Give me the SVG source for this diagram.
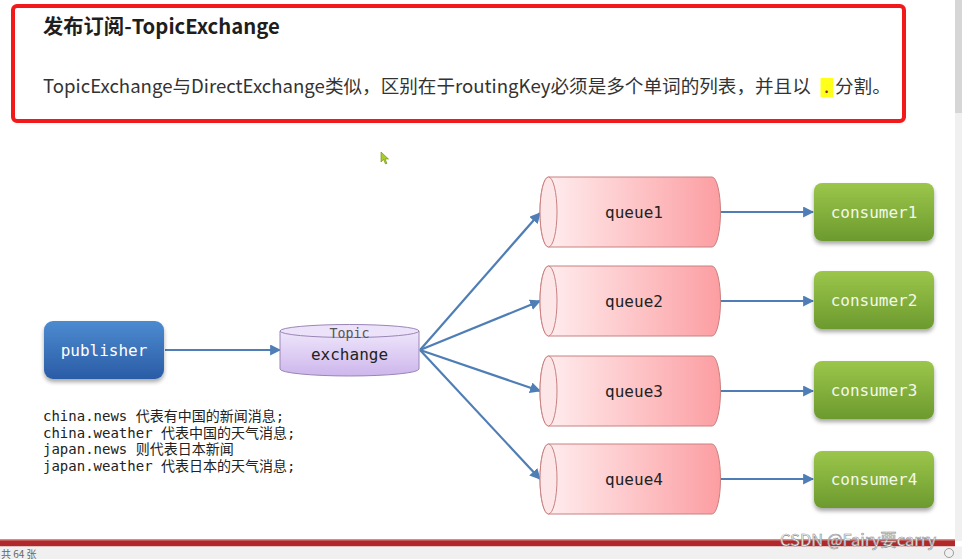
<svg xmlns="http://www.w3.org/2000/svg" width="962" height="559" viewBox="0 0 962 559">
<defs>
<style>
.cjk{font-family:"Noto Sans CJK SC","Noto Sans",sans-serif;}
.mono{font-family:"DejaVu Sans Mono","Liberation Mono","Noto Sans CJK SC",monospace;}
.lbl{font-family:"DejaVu Sans Mono","Liberation Mono",monospace;font-size:16px;text-anchor:middle;}
.conn{stroke:#4f7db5;stroke-width:2.2;fill:none;marker-end:url(#ah);}
.q{stroke:#c98080;stroke-width:1;}
</style>
<marker id="ah" viewBox="0 0 10 10" refX="9" refY="5" markerWidth="5" markerHeight="5" orient="auto" markerUnits="strokeWidth">
<path d="M0,0 L10,5 L0,10 z" fill="#4f7db5"/>
</marker>
<linearGradient id="gBlue" x1="0" y1="0" x2="0" y2="1">
<stop offset="0" stop-color="#4d8bd0"/>
<stop offset="1" stop-color="#2a5ca6"/>
</linearGradient>
<linearGradient id="gGreen" x1="0" y1="0" x2="0" y2="1">
<stop offset="0" stop-color="#9cc64b"/>
<stop offset="1" stop-color="#6c9a2e"/>
</linearGradient>
<linearGradient id="gPurple" x1="0" y1="0" x2="0" y2="1">
<stop offset="0" stop-color="#efe6fb"/>
<stop offset="1" stop-color="#cdb6ec"/>
</linearGradient>
<linearGradient id="gQueue" x1="0" y1="0" x2="1" y2="0">
<stop offset="0" stop-color="#fff0f1"/>
<stop offset="1" stop-color="#fc9ea2"/>
</linearGradient>
<filter id="sh" x="-10%" y="-10%" width="130%" height="140%">
<feGaussianBlur in="SourceAlpha" stdDeviation="2"/>
<feOffset dx="0" dy="3" result="b"/>
<feComponentTransfer><feFuncA type="linear" slope="0.35"/></feComponentTransfer>
<feMerge><feMergeNode/><feMergeNode in="SourceGraphic"/></feMerge>
</filter>
</defs>
<rect x="0" y="0" width="962" height="559" fill="#ffffff"/>
<!-- scrollbar -->
<rect x="955" y="0" width="7" height="541" fill="#f0f0f0"/>
<rect x="955" y="0" width="7" height="113" fill="#d6d6d6"/>

<!-- header box -->
<g id="header">
<rect x="13" y="6" width="891" height="115" rx="4" fill="#ffffff" stroke="#f2191b" stroke-width="4"/>
<text x="43" y="34" class="cjk" font-size="20.3" font-weight="bold" fill="#1e1e1e">发布订阅-TopicExchange</text>
<rect x="820.5" y="78" width="12.5" height="19" fill="#ffff1a"/>
<text x="43" y="93" class="cjk" font-size="18.6" fill="#333333">TopicExchange与DirectExchange类似，区别在于routingKey必须是多个单词的列表，并且以<tspan x="824" fill="#8b1a1a">.</tspan><tspan x="835">分割。</tspan></text>
</g>

<!-- cursor -->
<path d="M381,152 L381,162 L383.5,159.5 L385.5,164 L387,163.3 L385,159 L388.5,159 Z" fill="#a8cc2a" stroke="#6b8a10" stroke-width="0.6"/>

<!-- connectors -->
<g id="connectors">
<line class="conn" x1="165" y1="350" x2="280" y2="350"/>
<line class="conn" x1="420" y1="350" x2="540" y2="213"/>
<line class="conn" x1="420" y1="350" x2="540" y2="301"/>
<line class="conn" x1="420" y1="350" x2="540" y2="391"/>
<line class="conn" x1="420" y1="350" x2="540" y2="479"/>
<line class="conn" x1="721" y1="212" x2="813" y2="212"/>
<line class="conn" x1="721" y1="301" x2="813" y2="301"/>
<line class="conn" x1="721" y1="391" x2="813" y2="391"/>
<line class="conn" x1="721" y1="479" x2="813" y2="479"/>
</g>

<g id="publisher">
<rect x="44" y="321" width="120" height="58" rx="9" fill="url(#gBlue)" filter="url(#sh)"/>
<text x="104" y="355.5" class="lbl" fill="#ffffff">publisher</text>
</g>

<g id="exchange">
<path d="M280,331 L280,369 A69.5,7 0 0 0 419,369 L419,331 Z" fill="url(#gPurple)" stroke="#9a86b6" stroke-width="1"/>
<ellipse cx="349.5" cy="331" rx="69.5" ry="6.5" fill="#ece2fa" stroke="#9a86b6" stroke-width="1"/>
<text x="349.5" y="338" class="lbl" style="font-size:13.3px" fill="#555555">Topic</text>
<text x="349.5" y="360" class="lbl" fill="#222222">exchange</text>
</g>

<g id="queue1">
<path class="q" d="M548.5,177 L712,177 A8.5,35 0 0 1 712,247 L548.5,247 A8.5,35 0 0 1 548.5,177 Z" fill="url(#gQueue)"/>
<ellipse class="q" cx="548.5" cy="212" rx="8.5" ry="35" fill="#fde6e8"/>
<text x="634" y="217.5" class="lbl" fill="#222222">queue1</text>
</g>
<g id="queue2">
<path class="q" d="M548.5,266 L712,266 A8.5,35 0 0 1 712,336 L548.5,336 A8.5,35 0 0 1 548.5,266 Z" fill="url(#gQueue)"/>
<ellipse class="q" cx="548.5" cy="301" rx="8.5" ry="35" fill="#fde6e8"/>
<text x="634" y="306.5" class="lbl" fill="#222222">queue2</text>
</g>
<g id="queue3">
<path class="q" d="M548.5,356 L712,356 A8.5,35 0 0 1 712,426 L548.5,426 A8.5,35 0 0 1 548.5,356 Z" fill="url(#gQueue)"/>
<ellipse class="q" cx="548.5" cy="391" rx="8.5" ry="35" fill="#fde6e8"/>
<text x="634" y="396.5" class="lbl" fill="#222222">queue3</text>
</g>
<g id="queue4">
<path class="q" d="M548.5,444 L712,444 A8.5,35 0 0 1 712,514 L548.5,514 A8.5,35 0 0 1 548.5,444 Z" fill="url(#gQueue)"/>
<ellipse class="q" cx="548.5" cy="479" rx="8.5" ry="35" fill="#fde6e8"/>
<text x="634" y="484.5" class="lbl" fill="#222222">queue4</text>
</g>

<g id="consumer1">
<rect x="814" y="183" width="120" height="58" rx="8" fill="url(#gGreen)" filter="url(#sh)"/>
<text x="874" y="217.5" class="lbl" fill="#f4f8ea">consumer1</text>
</g>
<g id="consumer2">
<rect x="814" y="271" width="120" height="58" rx="8" fill="url(#gGreen)" filter="url(#sh)"/>
<text x="874" y="305.5" class="lbl" fill="#f4f8ea">consumer2</text>
</g>
<g id="consumer3">
<rect x="814" y="361" width="120" height="58" rx="8" fill="url(#gGreen)" filter="url(#sh)"/>
<text x="874" y="395.5" class="lbl" fill="#f4f8ea">consumer3</text>
</g>
<g id="consumer4">
<rect x="814" y="451" width="120" height="57" rx="8" fill="url(#gGreen)" filter="url(#sh)"/>
<text x="874" y="484.5" class="lbl" fill="#f4f8ea">consumer4</text>
</g>

<g id="notes" class="mono" font-size="14" fill="#222222">
<text x="43" y="421">china.news 代表有中国的新闻消息;</text>
<text x="43" y="437.7">china.weather 代表中国的天气消息;</text>
<text x="43" y="454.4">japan.news 则代表日本新闻</text>
<text x="43" y="471">japan.weather 代表日本的天气消息;</text>
</g>

<!-- bottom bar -->
<rect x="0" y="539" width="955" height="2" fill="#d98a8a"/>
<rect x="0" y="540.5" width="955" height="6" fill="#b0282a"/>
<rect x="0" y="546.5" width="962" height="12.5" fill="#f0f0f0"/>
<text x="1" y="557.5" class="cjk" font-size="10" fill="#666666">共 64 张</text>
<circle cx="949" cy="553" r="4.5" fill="none" stroke="#888888" stroke-width="0.8"/>
<text x="780" y="546" class="cjk" font-size="16.5" fill="#ffffff" stroke="#8a8a8a" stroke-width="0.6">CSDN @Fairy要carry</text>
</svg>
